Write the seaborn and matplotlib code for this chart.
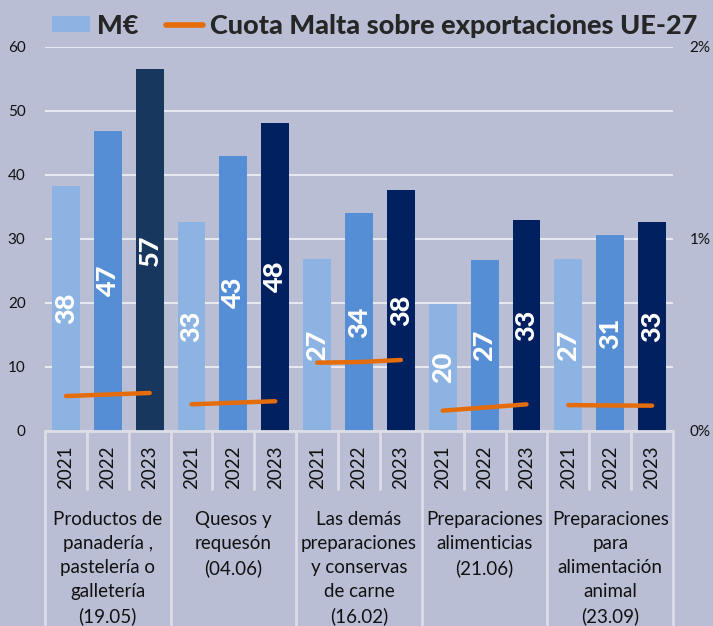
import matplotlib
matplotlib.use("Agg")
import matplotlib.pyplot as plt
import matplotlib.transforms as mtransforms
from matplotlib.lines import Line2D
from matplotlib.patches import Patch
from matplotlib.ticker import PercentFormatter
import seaborn as sns
import pandas as pd

groups = ["Productos de\npanadería ,\npastelería o\ngalletería\n(19.05)",
          "Quesos y\nrequesón\n(04.06)",
          "Las demás\npreparaciones\ny conservas\nde carne\n(16.02)",
          "Preparaciones\nalimenticias\n(21.06)",
          "Preparaciones\npara\nalimentación\nanimal\n(23.09)"]
years = ["2021", "2022", "2023"]
# M€ per group, 2021..2023
m_eur = [[38.3, 46.9, 56.6],
         [32.7, 43.0, 48.1],
         [26.9, 34.1, 37.7],
         [19.8, 26.7, 33.0],
         [26.9, 30.6, 32.7]]
# share of EU-27 exports to Malta (fraction)
share = [[0.00182, 0.00190, 0.00198],
         [0.00139, 0.00147, 0.00155],
         [0.00356, 0.00359, 0.00370],
         [0.00106, 0.00122, 0.00139],
         [0.00135, 0.00133, 0.00132]]

rows = []
for gi, g in enumerate(groups):
    for yi, y in enumerate(years):
        rows.append({"group": gi, "year": y, "slot": f"{gi}-{y}", "pos": gi * 3 + yi,
                     "value": m_eur[gi][yi], "share": share[gi][yi]})
df = pd.DataFrame(rows)

bg = "#b9bed4"
c21, c22, c23, c23b = "#8db3e2", "#558ed5", "#17375e", "#002060"
orange = "#e46c0a"
sep = "#dcdde6"
colors = []
for gi in range(len(groups)):
    colors += [c21, c22, c23 if gi == 0 else c23b]

sns.set_theme(style="white")
plt.rcParams["font.family"] = ["Lato", "DejaVu Sans"]

fig = plt.figure(figsize=(7.13, 6.26), dpi=100, facecolor=bg)
ax = fig.add_axes([45 / 713, 1 - 431 / 626, 628 / 713, 384 / 626])
ax.set_facecolor(bg)

sns.barplot(data=df, x="slot", y="value", hue="slot", palette=colors, legend=False,
            width=0.667, saturation=1, linewidth=0, edgecolor="none", ax=ax, zorder=2)

ax.set_ylim(0, 60)
ax.set_xlim(-0.5, len(df) - 0.5)
ax.set_yticks(range(0, 61, 10))
ax.yaxis.grid(True, color="#e8e9f0", linewidth=1.5, zorder=0)
ax.set_axisbelow(True)
for s in ax.spines.values():
    s.set_visible(False)
ax.tick_params(axis="y", labelsize=11, length=0, pad=14, labelcolor="#111111")
ax.set_xticks([])
ax.set_xlabel("")
ax.set_ylabel("")

# value labels inside bars
for p, v in zip(ax.patches, df["value"]):
    ax.text(p.get_x() + p.get_width() / 2, v / 2, f"{v:.0f}", rotation=90,
            ha="center", va="center", color="white", fontsize=19.5, fontweight="black",
            zorder=4)

# share line on secondary axis
ax2 = ax.twinx()
sns.lineplot(data=df, x="pos", y="share", units="group", estimator=None, color=orange,
             linewidth=3.2, ax=ax2, solid_capstyle="round", zorder=5)
ax2.set_ylim(0, 0.02)
ax2.set_yticks([0, 0.01, 0.02])
ax2.yaxis.set_major_formatter(PercentFormatter(1.0, decimals=0))
ax2.tick_params(axis="y", labelsize=11, length=0, pad=12, labelcolor="#111111")
for s in ax2.spines.values():
    s.set_visible(False)
ax2.set_xlabel("")
ax2.set_ylabel("")
ax2.set_xlim(-0.5, len(df) - 0.5)

# multi-level category axis
trans = mtransforms.blended_transform_factory(ax.transData, ax.transAxes)
n = len(df)
ax.plot([-0.5, n - 0.5], [0, 0], color=sep, linewidth=2, transform=trans, clip_on=False, zorder=3)
for i in range(n + 1):
    x = i - 0.5
    bottom = -0.51 if i % 3 == 0 else -0.151
    ax.plot([x, x], [0, bottom], color=sep, linewidth=2, transform=trans, clip_on=False)
for i, row in df.iterrows():
    ax.text(row["pos"], -0.037, row["year"], rotation=90, ha="center", va="top",
            fontsize=13.5, transform=trans, color="#111111")
for gi, g in enumerate(groups):
    ax.text(gi * 3 + 1, -0.209, g, ha="center", va="top", fontsize=13.5,
            linespacing=1.5, transform=trans, color="#111111")

handles = [Patch(facecolor=c21, edgecolor="none"),
           Line2D([0], [0], color=orange, linewidth=4, solid_capstyle="round")]
fig.legend(handles, ["M€", "Cuota Malta sobre exportaciones UE-27"], loc="upper left",
           bbox_to_anchor=(36 / 713, 1.004), ncol=2, frameon=False,
           prop={"weight": "black", "size": 19.5}, handlelength=1.4,
           handleheight=0.55, handletextpad=0.25, columnspacing=1.0, borderaxespad=0.2)

fig.savefig("out.png", dpi=100, facecolor=bg)
